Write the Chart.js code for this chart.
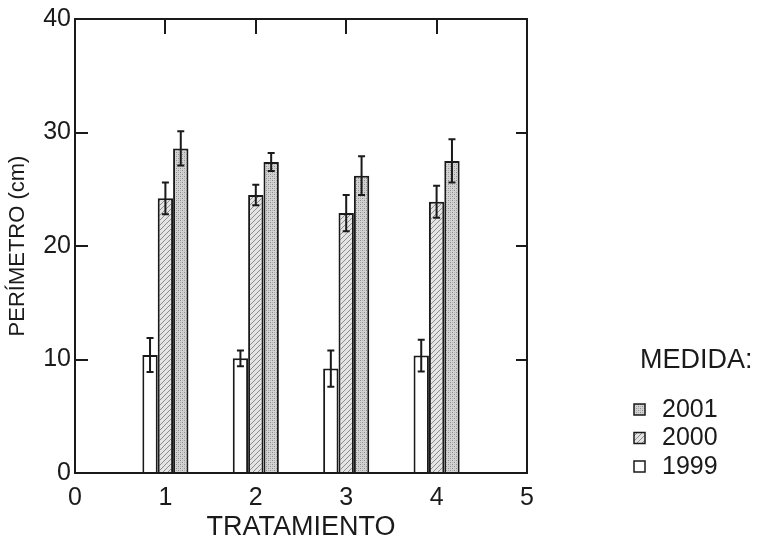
<!DOCTYPE html>
<html>
<head>
<meta charset="utf-8">
<script src="https://cdn.jsdelivr.net/npm/chart.js@4.4.1/dist/chart.umd.min.js"></script>
<style>
  html, body { margin: 0; padding: 0; background: #fff; }
  #wrap { width: 760px; height: 545px; }
</style>
</head>
<body>
<div id="wrap"><canvas id="chart"></canvas></div>
<script>
// ===== DATA =====
const tratamientos = [1, 2, 3, 4];
const medidas = ['1999', '2000', '2001'];
const media1999 = [10.4, 10.1, 9.2, 10.35];
const media2000 = [24.2, 24.5, 22.9, 23.9];
const media2001 = [28.6, 27.4, 26.2, 27.5];
const error1999 = [1.5, 0.7, 1.6, 1.4];
const error2000 = [1.4, 0.9, 1.6, 1.4];
const error2001 = [1.5, 0.8, 1.7, 1.9];
const xTicks = [0, 1, 2, 3, 4, 5];
const yTicks = [0, 10, 20, 30, 40];

const FONT = '"Liberation Sans", Arial, sans-serif';
const INK = '#1a1a1a';

function makePattern(size, bg, draw) {
    const c = document.createElement('canvas');
    c.width = size; c.height = size;
    const g = c.getContext('2d');
    g.fillStyle = bg;
    g.fillRect(0, 0, size, size);
    draw(g, size);
    return g.createPattern(c, 'repeat');
}

// 2000: light grey with thin diagonal hatching
const fill2000 = makePattern(5, '#e4e4e4', (g, s) => {
    g.strokeStyle = '#8c8c8c';
    g.lineWidth = 1;
    g.beginPath();
    g.moveTo(0, s); g.lineTo(s, 0);
    g.moveTo(-1, 1); g.lineTo(1, -1);
    g.moveTo(s - 1, s + 1); g.lineTo(s + 1, s - 1);
    g.stroke();
});
// 2001: darker stippled crosshatch
const fill2001 = makePattern(4, '#d2d2d2', (g) => {
    g.fillStyle = '#8e8e8e';
    g.fillRect(0, 0, 1, 1);
    g.fillRect(2, 2, 1, 1);
    g.fillStyle = '#b0b0b0';
    g.fillRect(2, 0, 1, 1);
    g.fillRect(0, 2, 1, 1);
});

const medias = [media1999, media2000, media2001];
const errores = [error1999, error2000, error2001];
const fills = ['#ffffff', fill2000, fill2001];

const datasets = medidas.map((m, i) => ({
    label: m,
    data: tratamientos.map((t, j) => ({ x: t, y: medias[i][j] })),
    errors: errores[i],
    backgroundColor: fills[i],
    borderColor: INK,
    borderWidth: 2,
    borderSkipped: 'bottom',
    categoryPercentage: 0.51,
    barPercentage: 1.0
}));

// error bars on top of each bar
const errorBars = {
    id: 'errorBars',
    afterDatasetsDraw(chart) {
        const ctx = chart.ctx, y = chart.scales.y;
        ctx.save();
        ctx.strokeStyle = INK;
        ctx.lineWidth = 2;
        chart.data.datasets.forEach((ds, i) => {
            chart.getDatasetMeta(i).data.forEach((bar, j) => {
                const v = ds.data[j].y, e = ds.errors[j];
                const top = y.getPixelForValue(v + e), bot = y.getPixelForValue(v - e);
                ctx.beginPath();
                ctx.moveTo(bar.x, top); ctx.lineTo(bar.x, bot);
                ctx.moveTo(bar.x - 3.5, top); ctx.lineTo(bar.x + 3.5, top);
                ctx.moveTo(bar.x - 3.5, bot); ctx.lineTo(bar.x + 3.5, bot);
                ctx.stroke();
            });
        });
        ctx.restore();
    }
};

// closed frame with inward ticks on left, right and top
const frame = {
    id: 'frame',
    afterDatasetsDraw(chart) {
        const { ctx, chartArea: a } = chart;
        const x = chart.scales.x, y = chart.scales.y;
        ctx.save();
        ctx.strokeStyle = INK;
        ctx.lineWidth = 2;
        ctx.strokeRect(a.left, a.top, a.right - a.left, a.bottom - a.top);
        ctx.beginPath();
        yTicks.slice(1, -1).forEach(v => {
            const py = Math.round(y.getPixelForValue(v));
            ctx.moveTo(a.left, py); ctx.lineTo(a.left + 13, py);
            ctx.moveTo(a.right, py); ctx.lineTo(a.right - 11, py);
        });
        xTicks.slice(1, -1).forEach(v => {
            const px = Math.round(x.getPixelForValue(v));
            ctx.moveTo(px, a.top); ctx.lineTo(px, a.top + 15);
        });
        ctx.stroke();
        ctx.restore();
    }
};

// legend block on the right, newest year first
const medidaLegend = {
    id: 'medidaLegend',
    afterDraw(chart) {
        const ctx = chart.ctx;
        ctx.save();
        ctx.fillStyle = INK;
        ctx.textBaseline = 'middle';
        ctx.textAlign = 'left';
        ctx.font = '27px ' + FONT;
        ctx.fillText('MEDIDA:', 640, 361);
        ctx.font = '25px ' + FONT;
        const items = chart.data.datasets.slice().reverse();
        items.forEach((ds, k) => {
            const cy = 410 + k * 28.5;
            ctx.fillStyle = ds.backgroundColor;
            ctx.fillRect(634, cy - 6, 11, 11);
            ctx.strokeStyle = INK;
            ctx.lineWidth = 1.5;
            ctx.strokeRect(634, cy - 6, 11, 11);
            ctx.fillStyle = INK;
            ctx.fillText(ds.label, 662, cy);
        });
        ctx.restore();
    }
};

new Chart(document.getElementById('chart'), {
    type: 'bar',
    data: { datasets },
    options: {
        responsive: true,
        maintainAspectRatio: false,
        animation: false,
        layout: { padding: { top: 13, right: 233, left: 0, bottom: 0 } },
        plugins: { legend: { display: false }, tooltip: { enabled: false } },
        scales: {
            x: {
                type: 'linear',
                min: 0, max: 5,
                offset: false,
                grid: { display: false, offset: false, drawTicks: false },
                border: { display: false },
                afterBuildTicks: s => { s.ticks = xTicks.map(v => ({ value: v })); },
                afterFit: s => { s.height = 72; },
                ticks: { color: INK, font: { family: FONT, size: 25 }, padding: 10, maxRotation: 0 },
                title: { display: true, text: 'TRATAMIENTO', color: INK, font: { family: FONT, size: 27 }, padding: { top: 0, bottom: 1 } }
            },
            y: {
                min: 0, max: 40,
                grid: { display: false, drawTicks: false },
                border: { display: false },
                afterBuildTicks: s => { s.ticks = yTicks.map(v => ({ value: v })); },
                afterFit: s => { s.width = 75; },
                ticks: { color: INK, font: { family: FONT, size: 25 }, padding: 4 },
                title: { display: true, text: 'PERÍMETRO (cm)', color: INK, font: { family: FONT, size: 22 }, padding: { top: 5, bottom: 0 } }
            }
        }
    },
    plugins: [errorBars, frame, medidaLegend]
});
</script>
</body>
</html>
